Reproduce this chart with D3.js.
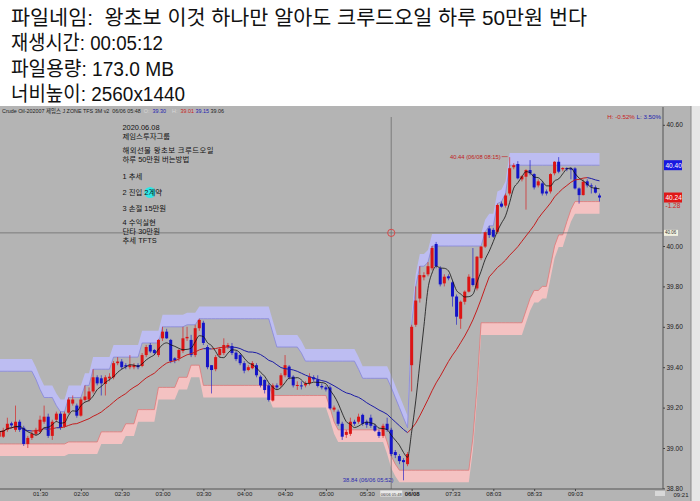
<!DOCTYPE html>
<html>
<head>
<meta charset="utf-8">
<script src="https://cdn.jsdelivr.net/npm/d3@7"></script>
<style>
  body { margin: 0; background: #fff; }
  svg { display: block; }
  text { white-space: pre; }
</style>
</head>
<body>
<svg id="mainsvg" width="700" height="501"></svg>
<script>
// 3분봉 캔들 (06/06 01:00 ~ 05:57, 06/08 07:00 ~ 09:21)
const opens = [
  39.056,39.056,39.09,39.122,39.09,39.13,39.10,39.02,39.05,39.07,
  39.08,39.13,39.155,39.06,39.14,39.17,39.105,39.175,39.22,39.21,
  39.16,39.238,39.24,39.28,39.35,39.345,39.317,39.345,39.35,39.42,
  39.428,39.41,39.40,39.40,39.41,39.406,39.46,39.51,39.485,39.46,
  39.543,39.576,39.535,39.444,39.444,39.48,39.543,39.535,39.46,39.593,
  39.62,39.50,39.41,39.39,39.46,39.47,39.50,39.505,39.472,39.46,
  39.42,39.386,39.395,39.41,39.353,39.337,39.31,39.235,39.31,39.31,
  39.36,39.403,39.353,39.31,39.31,39.31,39.32,39.35,39.34,39.307,
  39.30,39.30,39.19,39.18,39.12,39.065,39.07,39.13,39.13,39.164,
  39.13,39.15,39.11,39.08,39.06,39.12,39.09,38.98,38.96,38.94,
  38.92,39.41,39.61,39.74,39.845,39.86,39.89,40.01,39.89,39.815,
  39.85,39.82,39.75,39.64,39.724,39.774,39.84,39.79,39.94,39.997,
  40.087,40.08,40.07,40.21,40.20,40.26,40.39,40.406,40.33,40.343,
  40.376,40.356,40.30,40.31,40.27,40.27,40.36,40.417,40.38,40.386,
  40.385,40.384,40.285,40.252,40.32,40.30,40.29,40.25
];
const highs = [
  39.10,39.10,39.15,39.13,39.21,39.14,39.11,39.06,39.08,39.10,
  39.16,39.21,39.17,39.14,39.18,39.18,39.18,39.25,39.26,39.22,
  39.25,39.31,39.30,39.39,39.36,39.36,39.36,39.37,39.43,39.45,
  39.44,39.42,39.46,39.42,39.42,39.47,39.51,39.52,39.49,39.54,
  39.60,39.59,39.54,39.45,39.49,39.60,39.60,39.56,39.61,39.64,
  39.63,39.51,39.41,39.46,39.50,39.543,39.52,39.52,39.48,39.47,
  39.43,39.41,39.43,39.42,39.36,39.34,39.32,39.32,39.32,39.37,
  39.46,39.41,39.36,39.33,39.33,39.33,39.37,39.36,39.36,39.32,
  39.31,39.31,39.21,39.19,39.13,39.09,39.15,39.14,39.17,39.17,
  39.14,39.165,39.12,39.09,39.12,39.15,39.10,38.99,38.97,38.95,
  38.98,39.61,39.80,39.90,39.87,39.92,40.00,40.02,39.90,39.86,
  39.86,39.83,39.76,39.73,39.78,39.86,39.99,39.95,40.00,40.07,
  40.10,40.09,40.21,40.22,40.26,40.44,40.41,40.42,40.35,40.38,
  40.425,40.36,40.33,40.32,40.28,40.36,40.42,40.44,40.39,40.39,
  40.39,40.39,40.29,40.33,40.33,40.31,40.30,40.26
];
const lows = [
  39.04,39.05,39.08,39.10,39.08,39.08,39.01,39.00,39.04,39.06,
  39.07,39.12,39.05,39.04,39.13,39.09,39.10,39.17,39.21,39.15,
  39.155,39.23,39.23,39.27,39.31,39.26,39.26,39.33,39.34,39.41,
  39.39,39.39,39.39,39.39,39.39,39.40,39.45,39.47,39.46,39.45,
  39.53,39.54,39.42,39.42,39.43,39.47,39.53,39.45,39.45,39.58,
  39.51,39.39,39.27,39.38,39.45,39.46,39.49,39.46,39.43,39.41,
  39.37,39.38,39.39,39.35,39.30,39.27,39.23,39.23,39.29,39.30,
  39.35,39.34,39.30,39.288,39.29,39.30,39.31,39.33,39.30,39.29,
  39.28,39.19,39.18,39.11,39.04,39.05,39.06,39.11,39.12,39.11,
  39.10,39.10,39.08,39.05,39.05,39.08,38.96,38.95,38.92,38.84,
  38.91,39.28,39.60,39.72,39.83,39.85,39.88,39.89,39.80,39.80,
  39.83,39.70,39.61,39.59,39.71,39.77,39.80,39.78,39.93,39.99,
  40.04,40.04,40.06,40.19,40.19,40.25,40.38,40.33,40.32,40.18,
  40.35,40.28,40.29,40.25,40.25,40.26,40.35,40.36,40.37,40.37,
  40.33,40.28,40.21,40.25,40.29,40.26,40.26,40.22
];
const closes = [
  39.081,39.086,39.12,39.112,39.13,39.09,39.02,39.05,39.07,39.09,
  39.14,39.155,39.06,39.13,39.17,39.10,39.17,39.24,39.24,39.16,
  39.24,39.255,39.28,39.35,39.32,39.32,39.35,39.353,39.42,39.428,
  39.40,39.403,39.41,39.41,39.40,39.46,39.50,39.478,39.47,39.535,
  39.576,39.543,39.43,39.433,39.485,39.543,39.55,39.46,39.593,39.634,
  39.52,39.40,39.386,39.45,39.49,39.51,39.51,39.47,39.44,39.42,
  39.383,39.40,39.42,39.36,39.31,39.287,39.238,39.31,39.30,39.36,
  39.41,39.35,39.31,39.312,39.305,39.32,39.353,39.34,39.307,39.30,
  39.29,39.196,39.20,39.12,39.056,39.08,39.13,39.12,39.155,39.12,
  39.115,39.11,39.086,39.06,39.11,39.09,38.97,38.965,38.935,38.93,
  38.97,39.60,39.73,39.856,39.856,39.90,39.99,39.90,39.81,39.848,
  39.84,39.75,39.65,39.724,39.774,39.848,39.807,39.947,39.997,40.068,
  40.054,40.046,40.203,40.195,40.25,40.385,40.40,40.335,40.345,40.376,
  40.36,40.29,40.32,40.26,40.26,40.356,40.417,40.368,40.386,40.38,
  40.378,40.285,40.252,40.318,40.30,40.295,40.264,40.24
];

// J ZONE 밴드: 위 밴드 아래선, 아래 밴드 윗선
const upperBand = [
  39.38,39.38,39.38,39.38,39.38,39.38,39.38,39.38,39.38,39.34,
  39.29,39.25,39.25,39.25,39.21,39.18,39.18,39.25,39.25,39.25,
  39.25,39.31,39.31,39.39,39.39,39.39,39.39,39.39,39.45,39.45,
  39.45,39.45,39.45,39.45,39.45,39.52,39.52,39.52,39.52,39.52,
  39.60,39.60,39.60,39.60,39.60,39.60,39.61,39.61,39.61,39.64,
  39.64,39.64,39.64,39.64,39.64,39.64,39.64,39.64,39.64,39.64,
  39.64,39.64,39.64,39.64,39.64,39.64,39.64,39.57,39.50,39.50,
  39.50,39.50,39.50,39.50,39.47,39.43,39.43,39.43,39.43,39.43,
  39.43,39.43,39.43,39.43,39.43,39.43,39.43,39.43,39.39,39.345,
  39.345,39.345,39.345,39.345,39.345,39.345,39.30,39.25,39.20,39.15,
  39.10,39.61,39.80,39.90,39.90,39.92,40.00,40.00,40.00,40.00,
  40.00,40.00,40.00,40.00,40.00,40.00,40.00,40.00,40.00,40.07,
  40.10,40.10,40.21,40.22,40.26,40.40,40.40,40.40,40.40,40.40,
  40.40,40.40,40.40,40.40,40.40,40.40,40.40,40.40,40.40,40.40,
  40.40,40.40,40.40,40.40,40.40,40.40,40.40,40.40
];
const lowerBand = [
  39.02,39.02,39.02,39.02,39.02,39.02,39.02,39.02,39.02,39.02,
  39.02,39.02,39.02,39.02,39.02,39.02,39.02,39.03,39.03,39.03,
  39.03,39.03,39.03,39.03,39.03,39.08,39.08,39.08,39.08,39.08,
  39.08,39.12,39.12,39.12,39.19,39.19,39.19,39.19,39.19,39.30,
  39.30,39.30,39.30,39.30,39.35,39.35,39.35,39.41,39.41,39.41,
  39.31,39.31,39.31,39.31,39.31,39.31,39.31,39.31,39.31,39.31,
  39.31,39.31,39.31,39.31,39.31,39.31,39.31,39.26,39.26,39.26,
  39.26,39.26,39.26,39.26,39.26,39.26,39.26,39.26,39.26,39.26,
  39.26,39.20,39.13,39.09,39.09,39.09,39.09,39.09,39.09,39.09,
  39.09,39.09,39.09,39.09,39.09,39.03,38.96,38.92,38.89,38.89,
  38.89,38.89,38.89,38.89,38.89,38.89,38.89,38.89,38.89,38.89,
  38.89,38.89,38.89,38.89,38.89,38.89,39.05,39.30,39.62,39.62,
  39.62,39.62,39.62,39.62,39.62,39.62,39.62,39.62,39.62,39.68,
  39.74,39.78,39.78,39.80,39.80,39.90,40.00,40.055,40.055,40.12,
  40.18,40.22,40.22,40.22,40.22,40.22,40.22,40.22
];
const bandWidth = 0.06;

const priceTicks = [38.8, 39.0, 39.2, 39.4, 39.6, 39.8, 40.0, 40.6];
const timeTickIdx = [10, 20, 30, 40, 50, 60, 70, 80, 90, 101, 111, 121, 131, 141];
const timeTickLabels = ['01:30','02:00','02:30','03:00','03:30','04:00','04:30','05:00','05:30','06/08','07:33','08:03','08:33','09:03'];

const headerLines = [
  '파일네임:  왕초보 이것 하나만 알아도 크루드오일 하루 50만원 번다',
  '재생시간: 00:05:12',
  '파일용량: 173.0 MB',
  '너비높이: 2560x1440'
];
const headerWidths = [576, 152, 163, 174];
const noteLines = ['2020.06.08', '제임스투자그룹', '해외선물 왕초보 크루드오일', '하루 50만원 버는방법',
  '1 추세', '2 진입 2계약', '3 손절 15만원', '4 수익실현', '단타 30만원', '추세 TFTS'];
const noteY = [130, 139, 153, 162, 179, 195, 211, 225, 234, 243];

const crossIdx = 96;
const crossPrice = 40.065;
const highMark = { idx: 125, price: 40.44, label: '40.44 (06/08 08:15)' };
const lowMark = { idx: 99, price: 38.84, label: '38.84 (06/06 05:52)' };

const svg = d3.select('#mainsvg');
const width = +svg.attr('width');
const height = +svg.attr('height');
const plot = { left: 0, right: 663, top: 117, bottom: 489 };
const sans = '"Liberation Sans", Arial, sans-serif';
const kr = '"Liberation Sans", "Noto Sans CJK KR", sans-serif';

const idx = d3.range(closes.length);
const xScale = d3.scaleLinear().domain([0, closes.length - 1]).range([-0.8, 599.5]);
const yScale = d3.scaleLinear().domain([38.8, 40.6]).range([488.4, 124.8]);

// header (white part)
svg.append('rect').attr('width', width).attr('height', height).attr('fill', '#fff');
svg.selectAll('text.hdr').data(headerLines).enter().append('text')
  .attr('class', 'hdr')
  .attr('x', 11).attr('y', (d, i) => 25 + i * 25.3)
  .attr('font-family', kr).attr('font-size', 20.5).attr('fill', '#111')
  .attr('textLength', (d, i) => headerWidths[i]).attr('lengthAdjust', 'spacingAndGlyphs')
  .text(d => d);

// chart background
svg.append('rect').attr('x', 0).attr('y', 106).attr('width', width).attr('height', height - 106).attr('fill', '#b4b4b4');
svg.append('rect').attr('x', 691).attr('y', 106).attr('width', 9).attr('height', height - 106).attr('fill', '#e6e6e6');
svg.append('line').attr('x1', 691).attr('x2', 691).attr('y1', 106).attr('y2', height).attr('stroke', '#8a8a8a');

svg.append('clipPath').attr('id', 'clip').append('rect')
  .attr('x', plot.left).attr('y', plot.top).attr('width', plot.right - plot.left).attr('height', plot.bottom - plot.top);
const g = svg.append('g').attr('clip-path', 'url(#clip)');

// bands
const upperArea = d3.area().x((d, i) => xScale(i)).y0(d => yScale(d)).y1(d => yScale(d + bandWidth));
const lowerArea = d3.area().x((d, i) => xScale(i)).y0(d => yScale(d - bandWidth)).y1(d => yScale(d));
const edge = d3.line().x((d, i) => xScale(i)).y(d => yScale(d));
g.append('path').datum(upperBand).attr('d', upperArea).attr('fill', '#bdbdf2');
g.append('path').datum(upperBand).attr('d', edge).attr('fill', 'none').attr('stroke', '#8585dc').attr('stroke-width', 0.8);
g.append('path').datum(lowerBand).attr('d', lowerArea).attr('fill', '#f4c2c2');
g.append('path').datum(lowerBand).attr('d', edge).attr('fill', 'none').attr('stroke', '#e07878').attr('stroke-width', 0.8);

// crosshair
g.append('line').attr('x1', plot.left).attr('x2', plot.right)
  .attr('y1', yScale(crossPrice)).attr('y2', yScale(crossPrice)).attr('stroke', '#6e6e6e').attr('stroke-width', 0.8);
g.append('line').attr('x1', xScale(crossIdx)).attr('x2', xScale(crossIdx))
  .attr('y1', plot.top - 10).attr('y2', plot.bottom).attr('stroke', '#6e6e6e').attr('stroke-width', 0.8);

// candles
const candleColor = i => closes[i] >= opens[i] ? '#dc1414' : '#1414c8';
g.selectAll('line.wick').data(idx).enter().append('line')
  .attr('class', 'wick')
  .attr('x1', i => xScale(i)).attr('x2', i => xScale(i))
  .attr('y1', i => yScale(highs[i])).attr('y2', i => yScale(lows[i]))
  .attr('stroke', candleColor).attr('stroke-width', 0.8).attr('opacity', 0.8);
g.selectAll('rect.body').data(idx).enter().append('rect')
  .attr('class', 'body')
  .attr('x', i => xScale(i) - 1.5).attr('width', 3)
  .attr('y', i => yScale(Math.max(opens[i], closes[i])))
  .attr('height', i => Math.max(1, Math.abs(yScale(opens[i]) - yScale(closes[i]))))
  .attr('fill', candleColor);

// moving averages from closes
const sma = n => closes.map((c, i) => d3.mean(closes.slice(Math.max(0, i - n + 1), i + 1)));
const ma5 = sma(5);
const ma20 = sma(20);
g.selectAll('line.ma20').data(idx.slice(1)).enter().append('line')
  .attr('class', 'ma20')
  .attr('x1', i => xScale(i - 1)).attr('x2', i => xScale(i))
  .attr('y1', i => yScale(ma20[i - 1])).attr('y2', i => yScale(ma20[i]))
  .attr('stroke', i => ma20[i] >= ma20[i - 1] ? '#c41e1e' : '#1c1ca6')
  .attr('stroke-width', 1);
g.append('path').datum(ma5)
  .attr('d', d3.line().x((d, i) => xScale(i)).y(d => yScale(d)).curve(d3.curveMonotoneX))
  .attr('fill', 'none').attr('stroke', '#111').attr('stroke-width', 0.8);

// crosshair circle
g.append('circle').attr('cx', xScale(crossIdx)).attr('cy', yScale(crossPrice)).attr('r', 3.6)
  .attr('fill', 'none').attr('stroke', '#d84848').attr('stroke-width', 1);

// high / low marks
svg.append('text').attr('x', xScale(highMark.idx) - 9).attr('y', yScale(highMark.price) + 1.5)
  .attr('text-anchor', 'end').attr('font-family', sans).attr('font-size', 5.8).attr('fill', '#c02020')
  .text(highMark.label);
svg.append('line').attr('x1', xScale(highMark.idx) - 8).attr('x2', xScale(highMark.idx) - 2)
  .attr('y1', yScale(highMark.price) - 0.5).attr('y2', yScale(highMark.price) - 0.5).attr('stroke', '#c02020').attr('stroke-width', 0.6);
svg.append('text').attr('x', xScale(lowMark.idx) - 10).attr('y', yScale(lowMark.price) + 1.5)
  .attr('text-anchor', 'end').attr('font-family', sans).attr('font-size', 5.8).attr('fill', '#2a2ab0')
  .text(lowMark.label);

// note block
svg.append('circle').attr('cx', 150).attr('cy', 192.5).attr('r', 5.5).attr('fill', '#30e6e6');
svg.selectAll('text.note').data(noteLines).enter().append('text')
  .attr('class', 'note')
  .attr('x', 122.5).attr('y', (d, i) => noteY[i])
  .attr('font-family', kr).attr('font-size', 7.4).attr('fill', '#111')
  .attr('textLength', d => d.length > 12 ? 91 : null)
  .text(d => d);

// title strip
const title = svg.append('text').attr('x', 2).attr('y', 113).attr('font-family', kr).attr('font-size', 5.4).attr('fill', '#222');
title.append('tspan').text('Crude Oil-202007 제임스 J ZONE TFS 3M v2  06/06 05:48  ');
title.append('tspan').attr('fill', '#d8d8d8').text('O:  ');
title.append('tspan').attr('fill', '#2020b0').text('39.30');
title.append('tspan').attr('fill', '#d8d8d8').text('    H:  ');
title.append('tspan').attr('fill', '#c82020').text('39.01 ');
title.append('tspan').attr('fill', '#2020b0').text('39.15 ');
title.append('tspan').attr('fill', '#222').text('39.06');

const hl = svg.append('text').attr('x', 661).attr('y', 119).attr('text-anchor', 'end')
  .attr('font-family', sans).attr('font-size', 6.2);
hl.append('tspan').attr('fill', '#c82020').text('H: -0.52% ');
hl.append('tspan').attr('fill', '#2020b0').text('L: 3.50%');

// axes
svg.append('line').attr('x1', plot.right).attr('x2', plot.right).attr('y1', 107).attr('y2', plot.bottom).attr('stroke', '#555');
const yAxis = d3.axisRight(yScale).tickValues(priceTicks).tickFormat(d3.format('.2f')).tickSize(2).tickPadding(1.5);
const ya = svg.append('g').attr('transform', `translate(${plot.right},0)`).call(yAxis);
ya.select('.domain').remove();
ya.selectAll('line').attr('stroke', '#444');
ya.selectAll('text').attr('font-family', sans).attr('font-size', 6.5).attr('fill', '#222');

const xAxis = d3.axisBottom(xScale).tickValues(timeTickIdx).tickFormat((d, i) => timeTickLabels[i]).tickSize(2).tickPadding(1).tickSizeOuter(0);
const xa = svg.append('g').attr('transform', `translate(0,${plot.bottom})`).call(xAxis);
xa.select('.domain').attr('d', `M${plot.left},0H${plot.right}`).attr('stroke', '#555');
xa.selectAll('line').attr('stroke', '#444');
xa.selectAll('text').attr('font-family', sans).attr('font-size', 6).attr('fill', '#222')
  .attr('font-weight', (d, i) => timeTickLabels[i] === '06/08' ? 'bold' : null);
svg.append('text').attr('x', 681).attr('y', 497).attr('text-anchor', 'middle')
  .attr('font-family', sans).attr('font-size', 6).attr('fill', '#222').text('09:21');
svg.append('rect').attr('x', 655).attr('y', 491).attr('width', 10).attr('height', 5).attr('fill', '#d8d8d8');

// crosshair labels
svg.append('rect').attr('x', xScale(crossIdx) - 11).attr('y', 490.5).attr('width', 22).attr('height', 6).attr('fill', '#e8e8e8');
svg.append('text').attr('x', xScale(crossIdx)).attr('y', 495.5).attr('text-anchor', 'middle')
  .attr('font-family', sans).attr('font-size', 4).attr('fill', '#333').text('06/06 05:48');
svg.append('rect').attr('x', plot.right + 1).attr('y', yScale(crossPrice) - 3).attr('width', 14).attr('height', 6).attr('fill', '#f2f2e0');
svg.append('text').attr('x', plot.right + 2).attr('y', yScale(crossPrice) + 1.6)
  .attr('font-family', sans).attr('font-size', 4.5).attr('fill', '#333').text(d3.format('.2f')(crossPrice));

// last band value / last price boxes
const bandVal = upperBand[upperBand.length - 1];
const lastVal = closes[closes.length - 1];
svg.append('rect').attr('x', plot.right + 1).attr('y', yScale(bandVal) - 5).attr('width', 18).attr('height', 10).attr('fill', '#1818e0');
svg.append('text').attr('x', plot.right + 2.5).attr('y', yScale(bandVal) + 2.3)
  .attr('font-family', sans).attr('font-size', 6.5).attr('fill', '#fff').text(d3.format('.2f')(bandVal));
svg.append('rect').attr('x', plot.right + 1).attr('y', yScale(lastVal) - 5).attr('width', 18).attr('height', 10).attr('fill', '#e01818');
svg.append('text').attr('x', plot.right + 2.5).attr('y', yScale(lastVal) + 2.3)
  .attr('font-family', sans).attr('font-size', 6.5).attr('fill', '#fff').text(d3.format('.2f')(lastVal));
svg.append('text').attr('x', plot.right + 2.5).attr('y', yScale(lastVal) + 10)
  .attr('font-family', sans).attr('font-size', 6.5).attr('fill', '#d02020').text('-1.28');
</script>
</body>
</html>
